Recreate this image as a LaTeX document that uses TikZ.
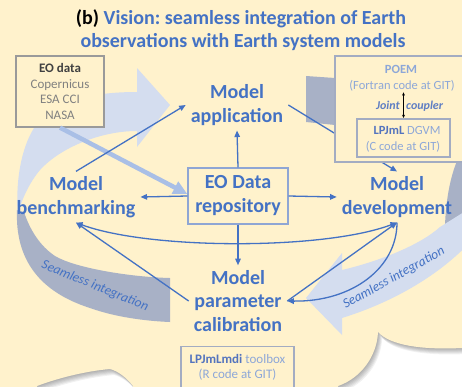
\documentclass[tikz,border=0pt]{standalone}
\usepackage{fontspec}
\setmainfont{Carlito}
\usetikzlibrary{arrows.meta}
\frenchspacing
\definecolor{bgY}{HTML}{FFF2CC}
\definecolor{acc}{HTML}{4472C4}
\definecolor{ribL}{HTML}{D4DDEF}
\definecolor{ribG}{HTML}{A8B1C6}
\definecolor{thk}{HTML}{A9BFE6}
\definecolor{bxb}{HTML}{A3ACC2}
\definecolor{repob}{HTML}{8FA6D4}
\definecolor{ltb}{HTML}{8DA7D8}
\definecolor{dkb}{HTML}{5474BE}
\definecolor{eog}{HTML}{808080}
\definecolor{eod}{HTML}{404040}
\definecolor{eobx}{HTML}{9A9A9A}
\begin{document}
\begin{tikzpicture}[x=1pt,y=-1pt,
  cloudp/.style={insert path={(-10,-10) -- (472,-10) -- (472,348) -- (462,348) .. controls (420,350) and (390,345) .. (378,332) .. controls (377,356) and (361,378) .. (338,386) -- (338,396) -- (133,396) -- (133,386) .. controls (127,378) and (118,371) .. (110,369) .. controls (85,371) and (55,379) .. (37,386) -- (37,396) -- (-10,396) -- cycle}},
  lbl/.style={text=acc, font=\bfseries\fontsize{20}{23.5}\selectfont, align=center, inner sep=5pt},
  ttl/.style={font=\bfseries\fontsize{20}{24}\selectfont, inner sep=0pt, anchor=base},
  ribt/.style={text=acc, font=\itshape\fontsize{13.5}{14}\selectfont, inner sep=0pt},
  con/.style={draw=acc, line width=1.3pt, -{Triangle[length=6.5pt,width=5.5pt]}},
  conboth/.style={draw=acc, line width=1.3pt, {Triangle[length=6.5pt,width=5.5pt]}-{Triangle[length=6.5pt,width=5.5pt]}},
  thkarrow/.style={draw=thk, line width=4.5pt, -{Triangle[length=14pt,width=13pt]}},
  smalltxt/.style={font=\fontsize{12.5}{15}\selectfont, inner sep=0pt, anchor=base},
  boxstyle/.style={draw=bxb, line width=1.2pt, fill=bgY, inner sep=0pt}
]
\useasboundingbox (0,0) rectangle (462,386);
\clip (0,0) rectangle (462,386);
\fill[white] (0,0) rectangle (462,386);
% cloud shadow and cloud
\foreach \i in {1,...,6}{\fill[black,opacity=0.055,shift={(0.7*\i,1.0*\i)},cloudp];}
\fill[bgY,cloudp];

% ribbons (seamless integration cycle)
\fill[ribG] (17,210) .. controls (15,260) and (40,292) .. (90,308) .. controls (115,317) and (145,321) .. (170,322) -- (170,278) .. controls (130,277) and (75,268) .. (55,256) .. controls (40,246) and (30,230) .. (24,212) -- cycle;
\fill[ribL] (170,105) -- (137,68) -- (137,92) .. controls (100,92) and (60,98) .. (40,120) .. controls (22,140) and (15,180) .. (18,214) .. controls (22,198) and (30,182) .. (40,170) .. controls (60,148) and (100,131) .. (137,131) -- (137,147) -- cycle;
\fill[ribG] (306,76) -- (335,78) -- (470,95) -- (470,240) .. controls (458,234) and (449,229) .. (445,225) .. controls (446,200) and (450,178) .. (457,161) -- (400,150) -- (335,125) -- (306,122) -- cycle;
\fill[ribL] (306,298) -- (342,253) -- (342,270) .. controls (380,261) and (420,245) .. (440,227) -- (472,207) -- (472,240) .. controls (445,270) and (400,300) .. (342,318) -- (342,335) -- cycle;
\node[ribt, rotate=-22] (si1) at (95,286) {Seamless integration};
\node[ribt, rotate=29] (si2) at (394,278) {Seamless integration};

% title
\node[ttl] (t1) at (241,24) {\textcolor{black}{(b)} \textcolor{acc}{Vision: seamless integration of Earth}};
\node[ttl, text=acc] (t2) at (243,47) {observations with Earth system models};

% labels
\node[lbl] (app) at (237,105) {Model\\application};
\node[lbl] (bench) at (76,197) {Model\\benchmarking};
\node[lbl] (dev) at (397,197) {Model\\development};
\node[lbl] (cal) at (238,301) {Model\\parameter\\calibration};

% EO data box
\node[draw=eobx, line width=1.2pt, fill=bgY, minimum width=88pt, minimum height=71pt, inner sep=0pt, align=center, font=\fontsize{13}{15.6}\selectfont] (eobox) at (60,91.5)
  {\textcolor{eod}{\bfseries EO data}\\\textcolor{eog}{Copernicus}\\\textcolor{eog}{ESA CCI}\\\textcolor{eog}{NASA}};

% repository box
\node[draw=repob, line width=1.3pt, fill=bgY, minimum width=100pt, minimum height=56pt, inner sep=0pt, align=center, text=acc, font=\bfseries\fontsize{20}{24}\selectfont] (repo) at (238,196) {EO Data\\repository};

% connectors
\draw[thkarrow] (eobox.south) -- ([yshift=2pt]repo.west);
\draw[con] (bench.north) -- (app.west);
\draw[con] (app.east) -- (dev.north);
\draw[conboth] (bench.south) .. controls (150,250) and (325,250) .. (dev.south);
\draw[con] (cal.west) -- (bench.south);
\draw[con] (cal.east) -- (dev.south);
\draw[con] (dev.south) .. controls (397,268) and (352,302) .. (cal.east);
\draw[con] (repo.north) -- (app.south);
\draw[con] (repo.west) -- (bench.east);
\draw[con] (repo.east) -- (dev.west);
\draw[con] (repo.south) -- (cal.north);

% POEM box
\node[boxstyle, minimum width=132pt, minimum height=106pt] (poem) at (401,109) {};
\node[smalltxt, text=ltb, font=\bfseries\fontsize{12.5}{15}\selectfont] (poemt) at (401,73) {POEM};
\node[smalltxt, text=ltb] (fortran) at (402,89) {(Fortran code at GIT)};
\node[smalltxt, anchor=base east, text=dkb!80!ltb, font=\bfseries\itshape\fontsize{12}{15}\selectfont] (joint) at (400,109) {Joint};
\node[smalltxt, anchor=base west, text=dkb!80!ltb, font=\bfseries\itshape\fontsize{12}{15}\selectfont] (coupler) at (406,109) {coupler};
\node[boxstyle, minimum width=93pt, minimum height=38pt] (lpjbox) at (403.5,138) {};
\node[smalltxt] (lpjt) at (407,134) {\textcolor{dkb}{\bfseries LPJmL} \textcolor{ltb}{DGVM}};
\node[smalltxt, text=ltb] (ccode) at (403,150) {(C code at GIT)};
\draw[black, line width=0.8pt, {Latex[length=3.5pt,width=3pt]}-{Latex[length=3.5pt,width=3pt]}] ([yshift=-1pt]fortran.south -| lpjbox.north) -- (lpjbox.north);

% LPJmLmdi box
\node[boxstyle, minimum width=113pt, minimum height=54pt, anchor=north] (mdibox) at (237.5,346) {};
\node[smalltxt, font=\fontsize{13}{15}\selectfont] (mdit) at (237.5,363) {\textcolor{dkb}{\bfseries LPJmLmdi} \textcolor{ltb}{toolbox}};
\node[smalltxt, font=\fontsize{13}{15}\selectfont, text=ltb] (rcode) at (237.5,378) {(R code at GIT)};
\end{tikzpicture}
\end{document}
